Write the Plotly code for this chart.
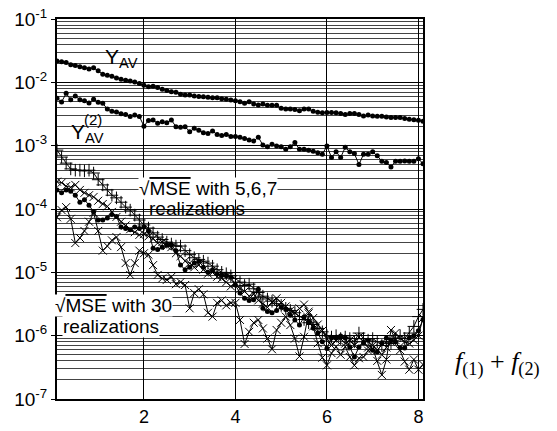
import plotly.graph_objects as go

x_vals = [round(0.1 * i, 1) for i in range(1, 82)]  # 0.1 .. 8.1

y_av = [2.17e-2, 2.12e-2, 2.06e-2, 1.90e-2, 1.85e-2, 1.77e-2, 1.70e-2, 1.62e-2, 1.70e-2, 1.52e-2,
        1.34e-2, 1.29e-2, 1.25e-2, 1.17e-2, 1.12e-2, 1.08e-2, 1.05e-2, 1.01e-2, 9.6e-3, 9.0e-3,
        8.5e-3, 8.7e-3, 8.3e-3, 7.8e-3, 7.4e-3, 7.1e-3, 7.0e-3, 6.5e-3, 6.3e-3, 6.3e-3,
        6.1e-3, 6.0e-3, 5.9e-3, 5.8e-3, 5.7e-3, 5.7e-3, 5.5e-3, 5.4e-3, 5.26e-3, 5.13e-3,
        4.95e-3, 4.66e-3, 4.95e-3, 4.54e-3, 4.38e-3, 4.54e-3, 4.33e-3, 4.33e-3, 4.33e-3, 3.88e-3,
        3.78e-3, 3.78e-3, 3.74e-3, 3.55e-3, 3.78e-3, 3.78e-3, 3.51e-3, 3.38e-3, 3.30e-3, 3.35e-3,
        3.35e-3, 3.30e-3, 3.22e-3, 3.10e-3, 3.22e-3, 3.22e-3, 3.10e-3, 2.95e-3, 3.06e-3, 2.95e-3,
        2.92e-3, 2.92e-3, 2.84e-3, 2.78e-3, 2.78e-3, 2.78e-3, 2.68e-3, 2.61e-3, 2.56e-3, 2.52e-3, 2.43e-3]

y_av2 = [5.6e-3, 4.9e-3, 6.7e-3, 5.3e-3, 6.1e-3, 5.3e-3, 5.1e-3, 4.7e-3, 5.4e-3, 4.85e-3,
         4.66e-3, 3.8e-3, 3.5e-3, 3.4e-3, 3.2e-3, 3.1e-3, 2.9e-3, 3.05e-3, 2.9e-3, 2.03e-3,
         2.5e-3, 2.54e-3, 2.25e-3, 2.38e-3, 2.3e-3, 2.54e-3, 1.99e-3, 1.95e-3, 1.99e-3, 1.66e-3,
         1.88e-3, 1.75e-3, 1.6e-3, 1.55e-3, 1.7e-3, 1.5e-3, 1.45e-3, 1.5e-3, 1.40e-3, 1.39e-3,
         1.36e-3, 1.30e-3, 1.23e-3, 1.19e-3, 1.36e-3, 1.02e-3, 9.6e-4, 1.05e-3, 9.9e-4, 9.6e-4,
         8.8e-4, 9.6e-4, 1.12e-3, 8.8e-4, 8.8e-4, 8.5e-4, 8.2e-4, 7.7e-4, 7.3e-4, 9.9e-4,
         6.5e-4, 8.0e-4, 6.5e-4, 9.4e-4, 8.0e-4, 7.5e-4, 5.05e-4, 7.3e-4, 7.3e-4, 8.0e-4,
         6.9e-4, 5.7e-4, 5.4e-4, 4.6e-4, 5.7e-4, 5.7e-4, 5.75e-4, 5.7e-4, 5.7e-4, 6.2e-4, 5.2e-4]

mse_5 = [8.5e-4, 6.6e-4, 5.3e-4, 4.3e-4, 4.1e-4, 4.1e-4, 4.0e-4, 4.1e-4, 3.7e-4, 2.9e-4,
         2.4e-4, 2.0e-4, 1.65e-4, 1.5e-4, 1.28e-4, 1.07e-4, 9.6e-5, 8.0e-5, 6.7e-5, 5.6e-5,
         5.0e-5, 4.2e-5, 3.6e-5, 3.3e-5, 3.0e-5, 2.8e-5, 2.6e-5, 2.6e-5, 2.2e-5, 1.9e-5,
         1.7e-5, 1.6e-5, 1.5e-5, 1.4e-5, 1.25e-5, 1.1e-5, 1.0e-5, 9.5e-6, 8.8e-6, 8.0e-6,
         7.0e-6, 6.2e-6, 6.5e-6, 5.5e-6, 4.8e-6, 4.2e-6, 3.8e-6, 3.5e-6, 3.2e-6, 3.0e-6,
         2.7e-6, 2.5e-6, 2.3e-6, 2.0e-6, 1.8e-6, 1.6e-6, 1.5e-6, 1.3e-6, 1.15e-6, 1.0e-6,
         9.5e-7, 1.0e-6, 9.0e-7, 9.5e-7, 9.0e-7, 8.0e-7, 1.1e-6, 9.0e-7, 8.5e-7, 9.0e-7,
         8.0e-7, 7.0e-7, 8.0e-7, 7.5e-7, 9.0e-7, 1.0e-6, 9.0e-7, 1.1e-6, 1.4e-6, 2.0e-6, 2.6e-6]

mse_6 = [2.0e-4, 1.8e-4, 2.0e-4, 1.9e-4, 1.65e-4, 1.28e-4, 1.4e-4, 1.15e-4, 9.0e-5, 6.7e-5,
         6.7e-5, 7.2e-5, 8.2e-5, 7.6e-5, 5.2e-5, 4.9e-5, 4.7e-5, 5.2e-5, 4.9e-5, 5.2e-5,
         4.5e-5, 2.4e-5, 2.3e-5, 2.5e-5, 2.7e-5, 2.7e-5, 2.2e-5, 1.3e-5, 1.1e-5, 1.2e-5,
         1.4e-5, 1.5e-5, 1.2e-5, 1.0e-5, 1.1e-5, 9.5e-6, 9.0e-6, 8.8e-6, 8.4e-6, 6.3e-6,
         4.7e-6, 3.9e-6, 3.6e-6, 3.7e-6, 5.4e-6, 2.7e-6, 2.4e-6, 2.3e-6, 2.5e-6, 2.8e-6,
         2.6e-6, 2.1e-6, 1.77e-6, 1.47e-6, 1.97e-6, 1.64e-6, 1.32e-6, 1.1e-6, 8.0e-7, 6.3e-7,
         9.2e-7, 9.2e-7, 9.9e-7, 9.2e-7, 6.6e-7, 4.6e-7, 6.6e-7, 7.7e-7, 8.5e-7, 5.9e-7,
         5.5e-7, 7.7e-7, 9.2e-7, 8.5e-7, 8.0e-7, 6.4e-7, 6.4e-7, 9.2e-7, 1.0e-6, 1.2e-6, 1.8e-6]

mse_7 = [2.7e-4, 2.6e-4, 2.3e-4, 2.2e-4, 2.4e-4, 2.0e-4, 1.8e-4, 1.65e-4, 1.55e-4, 1.35e-4,
         1.2e-4, 1.1e-4, 9.0e-5, 7.5e-5, 6.3e-5, 5.5e-5, 4.8e-5, 4.3e-5, 3.9e-5, 4.0e-5,
         3.7e-5, 3.4e-5, 2.9e-5, 3.0e-5, 2.6e-5, 2.5e-5, 2.0e-5, 1.8e-5, 1.5e-5, 1.4e-5,
         1.2e-5, 1.3e-5, 1.1e-5, 9.5e-6, 1.0e-5, 8.5e-6, 8.0e-6, 7.0e-6, 6.0e-6, 6.5e-6,
         5.5e-6, 5.0e-6, 4.2e-6, 4.5e-6, 3.6e-6, 3.2e-6, 2.8e-6, 3.4e-6, 3.9e-6, 3.3e-6,
         2.9e-6, 2.5e-6, 2.3e-6, 2.7e-6, 3.1e-6, 2.4e-6, 1.9e-6, 1.5e-6, 1.2e-6, 9.0e-7,
         7.0e-7, 8.5e-7, 9.0e-7, 7.5e-7, 8.5e-7, 7.0e-7, 9.5e-7, 8.0e-7, 6.5e-7, 7.0e-7,
         6.0e-7, 5.0e-7, 6.5e-7, 8.0e-7, 1.1e-6, 9.0e-7, 8.0e-7, 7.5e-7, 8.5e-7, 1.0e-6, 1.9e-6]

mse_30 = [7.4e-5, 9.6e-5, 1.07e-4, 7.0e-5, 2.9e-5, 3.5e-5, 4.5e-5, 6.3e-5, 8.7e-5, 4.5e-5,
          2.2e-5, 2.6e-5, 3.2e-5, 3.6e-5, 2.5e-5, 1.4e-5, 9.1e-6, 1.4e-5, 2.2e-5, 2.0e-5,
          1.9e-5, 1.3e-5, 9.1e-6, 8.0e-6, 7.6e-6, 8.5e-6, 6.5e-6, 7.0e-6, 6.3e-6, 2.7e-6,
          4.7e-6, 5.4e-6, 4.5e-6, 2.3e-6, 2.0e-6, 3.3e-6, 3.6e-6, 3.0e-6, 3.3e-6, 3.3e-6,
          1.77e-6, 7.4e-7, 1.15e-6, 1.6e-6, 1.77e-6, 1.3e-6, 9.0e-7, 6.1e-7, 1.23e-6, 1.6e-6,
          2.0e-6, 1.47e-6, 9.0e-7, 4.7e-7, 9.6e-7, 2.25e-6, 1.4e-6, 7.6e-7, 4.5e-7, 3.4e-7,
          5.3e-7, 6.7e-7, 5.0e-7, 6.7e-7, 4.6e-7, 3.4e-7, 4.4e-7, 4.6e-7, 5.8e-7, 6.3e-7,
          4.0e-7, 2.4e-7, 4.2e-7, 1.23e-6, 8.5e-7, 5.9e-7, 3.9e-7, 2.9e-7, 4.2e-7, 2.9e-7, 3.5e-7]

y_tickvals = [1e-7, 1e-6, 1e-5, 1e-4, 1e-3, 1e-2, 1e-1]
y_ticktext = ["10<sup>-7</sup>", "10<sup>-6</sup>", "10<sup>-5</sup>", "10<sup>-4</sup>",
              "10<sup>-3</sup>", "10<sup>-2</sup>", "10<sup>-1</sup>"]
x_tickvals = [2, 4, 6, 8]

fig = go.Figure()
line_style = dict(color="black", width=1)

fig.add_trace(go.Scatter(x=x_vals, y=mse_30, mode="lines+markers", line=line_style,
                         marker=dict(symbol="x-thin", size=8, line=dict(color="black", width=1))))
fig.add_trace(go.Scatter(x=x_vals, y=mse_7, mode="lines+markers", line=line_style,
                         marker=dict(symbol="x-thin", size=8, line=dict(color="black", width=1))))
fig.add_trace(go.Scatter(x=x_vals, y=mse_5, mode="lines+markers", line=line_style,
                         marker=dict(symbol="cross-thin", size=9, line=dict(color="black", width=1))))
fig.add_trace(go.Scatter(x=x_vals, y=mse_6, mode="lines+markers", line=line_style,
                         marker=dict(symbol="circle", size=5, color="black")))
fig.add_trace(go.Scatter(x=x_vals, y=y_av2, mode="lines+markers", line=line_style,
                         marker=dict(symbol="circle", size=5, color="black")))
fig.add_trace(go.Scatter(x=x_vals, y=y_av, mode="lines+markers", line=line_style,
                         marker=dict(symbol="circle", size=5, color="black")))

font_main = "Liberation Sans, Arial, sans-serif"

# page body has an 8px margin; figure is sized so the plot area lands at
# x 57..423, y 19..399 in the window
fig.update_layout(
    width=549, height=423,
    margin=dict(l=49, r=134, t=11, b=32, autoexpand=False),
    paper_bgcolor="white", plot_bgcolor="white",
    showlegend=False,
    font=dict(family=font_main, size=18, color="black"),
    xaxis=dict(range=[0.1, 8.1], tickvals=x_tickvals, showgrid=True, gridcolor="black",
               gridwidth=1, showline=True, linecolor="black", linewidth=2, mirror=True,
               ticks="", ticklabelstandoff=0, zeroline=False, automargin=False,
               ticklabeloverflow="allow",
               tickfont=dict(size=18, family=font_main)),
    yaxis=dict(type="log", range=[-7, -1], tickvals=y_tickvals, ticktext=y_ticktext,
               showgrid=True, gridcolor="black", gridwidth=1, showline=True,
               linecolor="black", linewidth=2, mirror=True, ticks="outside", ticklen=4,
               tickcolor="black", zeroline=False, automargin=False,
               ticklabeloverflow="allow",
               tickfont=dict(size=19, family=font_main),
               minor=dict(dtick="D1", showgrid=True, gridcolor="#444444", gridwidth=1, ticks="")),
)

def px_to_paper(px, py):
    return (px - 57) / 366.0, (399 - py) / 380.0

annots = [
    ("Y<sub>AV</sub>", 104, 58, 21, None),
    ("Y<sub>AV</sub>", 70, 133, 21, None),
    ("(2)", 83, 119, 15, None),
    ("√<span style='text-decoration:overline'>MSE</span> with 5,6,7", 138, 189, 19, "white"),
    ("realizations", 148, 208, 19, None),
    ("√<span style='text-decoration:overline'>MSE</span> with 30", 54, 305, 19, "white"),
    ("realizations", 62, 326, 19, "white"),
]
for text, px, py, size, bg in annots:
    xp, yp = px_to_paper(px, py)
    fig.add_annotation(x=xp, y=yp, xref="paper", yref="paper", text=text, showarrow=False,
                       xanchor="left", yanchor="middle", font=dict(size=size, family=font_main),
                       bgcolor=bg if bg else "rgba(0,0,0,0)", borderpad=0)

xp, yp = px_to_paper(498, 363)
fig.add_annotation(x=xp, y=yp, xref="paper", yref="paper",
                   text="<i>f</i><sub>(1)</sub> + <i>f</i><sub>(2)</sub>", showarrow=False,
                   xanchor="center", yanchor="middle",
                   font=dict(size=26, family="Liberation Serif, Times New Roman, serif"))

fig.write_html("out.html")
